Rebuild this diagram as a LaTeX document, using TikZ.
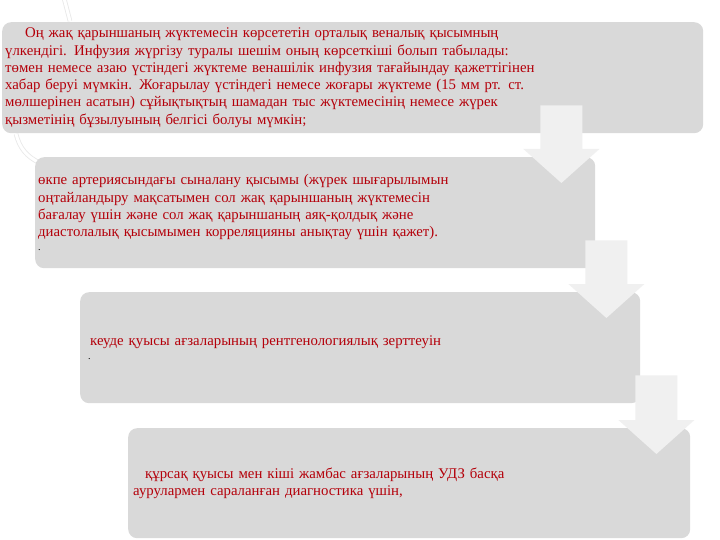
\documentclass[tikz,border=0pt]{standalone}
\usepackage{fontspec}
\setmainfont{Liberation Serif}
\usetikzlibrary{calc}
\definecolor{rougeT}{RGB}{180, 0, 10}
\definecolor{grisB}{RGB}{217, 217, 217}
\definecolor{grisF}{RGB}{240, 240, 240}
\tikzset{
  boite/.style={fill=grisB, rounded corners=9pt, anchor=north west,
    inner xsep=3pt, inner ysep=0pt, align=left, text=rougeT,
    font=\fontsize{14.8}{17.2}\selectfont},
  flecheG/.style={fill=grisF}
}
% fleche pleine entre deux boites
\newcommand{\flecheB}[2]{%
  \fill[flecheG] let \p1=(#1.south), \p2=(#2.north east) in
    (\x2-55pt,\y1+28pt) -- (\x2-13pt,\y1+28pt) -- (\x2-13pt,\y2+8pt)
    -- (\x2+4pt,\y2+8pt) -- (\x2-34pt,\y2-26pt) -- (\x2-72pt,\y2+8pt)
    -- (\x2-55pt,\y2+8pt) -- cycle;}

\begin{document}
\begin{tikzpicture}[x=1pt,y=-1pt]
    \useasboundingbox (0,0) rectangle (720,540);
    \fill[white] (0,0) rectangle (720,540);
  % traits clairs
    \draw[draw=gray!18, double=white, double distance=3pt, line width=0.8pt] (64,-2) -- (70,21);
    \draw[draw=gray!18, double=white, double distance=3pt, line width=0.8pt] (16,134) to[bend right=25] (40,163);
  % boites
    \node[boite, minimum width=701pt, minimum height=111pt, text width=695pt] (b1) at (2,22)
    {\hspace*{20pt}Оң жақ қарыншаның жүктемесін көрсететін орталық веналық қысымның\\
    үлкендігі. Инфузия жүргізу туралы шешім оның көрсеткіші болып табылады:\\
    төмен немесе азаю үстіндегі жүктеме венашілік инфузия тағайындау қажеттігінен\\
    хабар беруі мүмкін. Жоғарылау үстіндегі немесе жоғары жүктеме (15 мм рт. ст.\\
    мөлшерінен асатын) сұйықтықтың шамадан тыс жүктемесінің немесе жүрек\\
    қызметінің бұзылуының белгісі болуы мүмкін;};
    \node[boite, minimum width=560pt, minimum height=111pt, text width=554pt] (b2) at (35,157)
    {өкпе артериясындағы сыналану қысымы (жүрек шығарылымын\\
    оңтайландыру мақсатымен сол жақ қарыншаның жүктемесін\\
    бағалау үшін және сол жақ қарыншаның аяқ-қолдық және\\
    диастолалық қысымымен корреляцияны анықтау үшін қажет).\\[-3pt]
    {\color{black}\fontsize{10}{10}\selectfont .}};
    \node[boite, minimum width=560pt, minimum height=111pt, text width=554pt] (b3) at (80,292)
    {\hspace*{7pt}кеуде қуысы ағзаларының рентгенологиялық зерттеуін\\[-4pt]
    \hspace*{5pt}{\color{black}\fontsize{10}{10}\selectfont .}};
    \node[boite, minimum width=562pt, minimum height=110pt, text width=556pt] (b4) at (128,428)
    {\hspace*{14pt}құрсақ қуысы мен кіші жамбас ағзаларының УДЗ басқа\\
    \hspace*{2pt}аурулармен сараланған диагностика үшін,};
  % fleches
    \flecheB{b1}{b2}
    \flecheB{b2}{b3}
    \flecheB{b3}{b4}
\end{tikzpicture}
\end{document}
